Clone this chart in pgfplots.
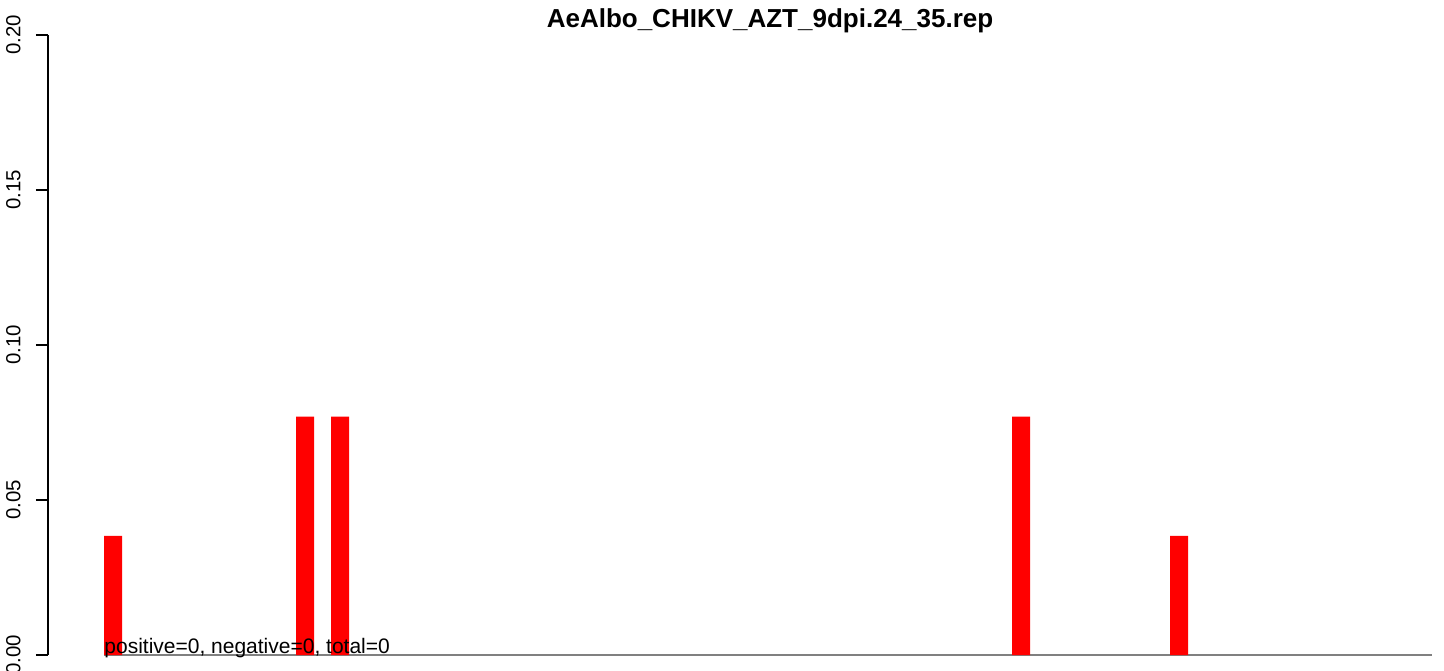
\documentclass[border=0pt]{standalone}
\usepackage{fontspec}
\setmainfont{Liberation Sans}
\usepackage{pgfplots}
\pgfplotsset{compat=1.18}
\begin{document}
\begin{tikzpicture}
\begin{axis}[
  scale only axis,
  width=692pt, height=310pt,
  at={(24pt,7.5pt)}, anchor=south west,
  xmin=48, xmax=1432,
  ymin=0, ymax=0.2,
  clip=false,
  axis x line=none,
  axis y line*=left,
  axis line style={line width=0.8pt, -},
  ytick={0,0.05,0.1,0.15,0.2},
  tick align=outside,
  major tick length=6pt,
  tick style={line width=0.8pt, black},
  yticklabel style={rotate=90, anchor=south, inner sep=0pt, font=\fontsize{10.2}{12}\selectfont, yshift=7.5pt},
  /pgf/number format/assume math mode=true,
  /pgf/number format/fixed,
  /pgf/number format/fixed zerofill,
  /pgf/number format/precision=2,
]
\addplot[draw=gray, line width=1pt] coordinates {(104,0) (1432,0)};
\addplot[ybar, bar width=18, fill=red, draw=none] coordinates {
  (113,0.03846) (305,0.07692) (340,0.07692) (1021,0.07692) (1179,0.03846)
};
\node[anchor=base west, inner sep=0pt, font=\fontsize{10.5}{12}\selectfont] at (axis cs:104,0.0006) {positive=0, negative=0, total=0};
\node[anchor=base, inner sep=0pt, font=\fontsize{13}{15}\bfseries] at (axis cs:770,0.2023) {AeAlbo\_CHIKV\_AZT\_9dpi.24\_35.rep};
\end{axis}
\pgfresetboundingbox
\path[use as bounding box] (0,0) rectangle (722pt,335pt);
\end{tikzpicture}
\end{document}
